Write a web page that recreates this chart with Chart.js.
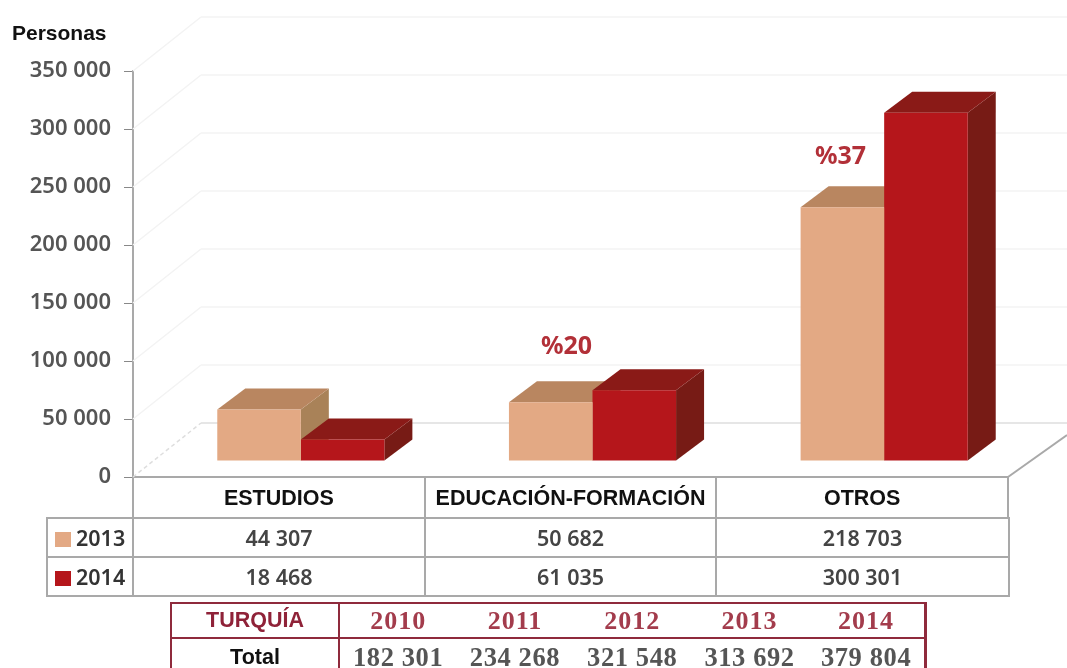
<!DOCTYPE html>
<html lang="es">
<head>
<meta charset="utf-8">
<title>Turquía</title>
<script src="https://cdn.jsdelivr.net/npm/chart.js@4/dist/chart.umd.min.js"></script>
<style>
    html, body { margin: 0; padding: 0; background: #fff; overflow: hidden; }
    #wrap { position: relative; width: 1067px; height: 668px; overflow: hidden; }
    canvas { position: absolute; left: 0; top: 0; }
    .personas { position: absolute; left: 12px; top: 21px; font: bold 21px "Liberation Sans", sans-serif; color: #111; }
    .pct { position: absolute; font: bold 25px "Noto Sans", sans-serif; color: #b23038; }
    #pct1 { left: 541px; top: 327px; }
    #pct2 { left: 815px; top: 137px; }
    table { position: absolute; border-collapse: collapse; table-layout: fixed; }
    #dataTable { left: 46px; top: 517px; width: 962px; }
    #dataTable td { height: 37px; padding: 0; border: 2px solid #a9a9a9; text-align: center;
        font: 600 21.5px "Noto Sans", sans-serif; color: #444; }
    #dataTable td.name { text-align: left; padding-left: 7px; white-space: nowrap; color: #333; }
    .swatch { display: inline-block; width: 16px; height: 15px; margin-right: 5px; vertical-align: -1px; }
    #turkeyTable { left: 170px; top: 602px; width: 757px; }
    #turkeyTable td { padding: 0; border: 2px solid #8f2a3c; border-left: none; border-right: none; text-align: center; }
    #turkeyTable td.head { width: 166px; border: 2px solid #8f2a3c; font: bold 21.5px "Liberation Sans", sans-serif; }
    #turkeyTable tr:first-child td { height: 33px; }
    #turkeyTable tr:last-child td { height: 36px; border-bottom: none; }
    #turkeyTable td.year { font: bold 26px "Liberation Serif", serif; color: #a33c4c; letter-spacing: 1px; }
    #turkeyTable td.total { font: bold 26.5px "Liberation Serif", serif; color: #555; letter-spacing: 0.6px; }
    #turkeyTable td.last { border-right: 3px solid #8f2a3c; }
</style>
</head>
<body>
<div id="wrap">
    <canvas id="chart" width="1067" height="668"></canvas>
    <div class="personas">Personas</div>
    <div class="pct" id="pct1">%20</div>
    <div class="pct" id="pct2">%37</div>
    <table id="dataTable"></table>
    <table id="turkeyTable"></table>
</div>
<script>
const categories = ['ESTUDIOS', 'EDUCACIÓN-FORMACIÓN', 'OTROS'];
const seriesNames = ['2013', '2014'];
const values2013 = [44307, 50682, 218703];
const values2014 = [18468, 61035, 300301];
const turkeyYears = ['2010', '2011', '2012', '2013', '2014'];
const turkeyTotals = [182301, 234268, 321548, 313692, 379804];

// front colour, top face, side face for each series
const peach = { front: '#e3a984', top: '#b98660', side: '#a98258' };
const red = { front: '#b5161b', top: '#8a1a17', side: '#771b15' };

const fmt = v => String(v).replace(/\B(?=(\d{3})+$)/g, ' ');

// Fake 3D: the bars sit a little inside the floor, the faces are derived from each bar
const FLOOR_DX = 22;
const FLOOR_DY = -16;
const DEPTH_X = 28;
const DEPTH_Y = -21;
const WALL_X = 68;
const WALL_Y = -54;

function poly(ctx, points, color) {
    ctx.fillStyle = color;
    ctx.beginPath();
    points.forEach((p, i) => i ? ctx.lineTo(p[0], p[1]) : ctx.moveTo(p[0], p[1]));
    ctx.closePath();
    ctx.fill();
}

const box3d = {
    id: 'box3d',
    beforeDatasetsDraw(chart) {
        const { ctx, chartArea, scales } = chart;
        const y = scales.y;

        // back wall and floor
        ctx.save();
        ctx.lineWidth = 1.5;
        y.ticks.forEach(t => {
            const py = y.getPixelForValue(t.value);
            const isFloor = t.value === 0;
            ctx.strokeStyle = isFloor ? '#dedede' : '#f3f3f3';
            ctx.setLineDash(isFloor ? [4, 3] : []);
            ctx.beginPath();
            ctx.moveTo(chartArea.left, py);
            ctx.lineTo(chartArea.left + WALL_X, py + WALL_Y);
            ctx.stroke();
            ctx.setLineDash([]);
            ctx.beginPath();
            ctx.moveTo(chartArea.left + WALL_X, py + WALL_Y);
            ctx.lineTo(chart.width, py + WALL_Y);
            ctx.stroke();
        });
        ctx.strokeStyle = '#a9a9a9';
        ctx.lineWidth = 2;
        ctx.beginPath();
        ctx.moveTo(chartArea.right, chartArea.bottom);
        ctx.lineTo(chart.width, chartArea.bottom + WALL_Y + 12);
        ctx.stroke();
        ctx.restore();

        // stays translated for the library's own bars, restored in afterDatasetsDraw
        ctx.save();
        ctx.translate(FLOOR_DX, FLOOR_DY);
        [peach, red].forEach((faces, ds) => {
            chart.getDatasetMeta(ds).data.forEach(bar => {
                const l = bar.x - bar.width / 2;
                const r = bar.x + bar.width / 2;
                poly(ctx, [[r, bar.y], [r + DEPTH_X, bar.y + DEPTH_Y], [r + DEPTH_X, bar.base + DEPTH_Y], [r, bar.base]], faces.side);
                poly(ctx, [[l, bar.y], [l + DEPTH_X, bar.y + DEPTH_Y], [r + DEPTH_X, bar.y + DEPTH_Y], [r, bar.y]], faces.top);
            });
        });
    },
    afterDatasetsDraw(chart) {
        chart.ctx.restore();
    }
};

new Chart(document.getElementById('chart'), {
    type: 'bar',
    data: {
        labels: categories,
        datasets: [
            { label: seriesNames[0], data: values2013, backgroundColor: peach.front, borderWidth: 0 },
            { label: seriesNames[1], data: values2014, backgroundColor: red.front, borderWidth: 0 }
        ]
    },
    plugins: [box3d],
    options: {
        responsive: false,
        animation: false,
        layout: { padding: { top: 71, right: 59, left: 0, bottom: 0 } },
        plugins: { legend: { display: false }, tooltip: { enabled: false } },
        datasets: { bar: { categoryPercentage: 0.573, barPercentage: 1 } },
        scales: {
            x: {
                offset: true,
                afterFit: scale => { scale.height = 191; },
                border: { color: '#a9a9a9', width: 2 },
                grid: { drawOnChartArea: false, offset: true, color: '#a9a9a9', lineWidth: 2, tickLength: 40 },
                ticks: {
                    padding: -31,
                    maxRotation: 0,
                    autoSkip: false,
                    color: '#111',
                    font: { family: '"Liberation Sans", sans-serif', size: 21.5, weight: 'bold' }
                }
            },
            y: {
                min: 0,
                max: 350000,
                afterFit: scale => { scale.width = 133; },
                border: { color: '#a9a9a9', width: 2 },
                grid: { drawOnChartArea: false, color: '#888', tickLength: 9 },
                ticks: {
                    stepSize: 50000,
                    padding: 13,
                    color: '#555',
                    font: { family: '"Noto Sans", sans-serif', size: 22, weight: '600' },
                    callback: value => fmt(value)
                }
            }
        }
    }
});

// Tables under the plot
const dataRows = [[seriesNames[0], peach.front, values2013], [seriesNames[1], red.front, values2014]];
document.getElementById('dataTable').innerHTML =
    '<colgroup><col style="width:86px"><col style="width:292px"><col style="width:291px"><col style="width:293px"></colgroup>' +
    dataRows.map(([name, color, vals]) =>
        `<tr><td class="name"><span class="swatch" style="background:${color}"></span>${name}</td>` +
        vals.map(v => `<td>${fmt(v)}</td>`).join('') + '</tr>').join('');

document.getElementById('turkeyTable').innerHTML =
    '<tr><td class="head" style="color:#8f2238">TURQUÍA</td>' +
    turkeyYears.map((yr, i) => `<td class="year${i === 4 ? ' last' : ''}">${yr}</td>`).join('') + '</tr>' +
    '<tr><td class="head" style="color:#111;border-bottom:none">Total</td>' +
    turkeyTotals.map((v, i) => `<td class="total${i === 4 ? ' last' : ''}">${fmt(v)}</td>`).join('') + '</tr>';
</script>
</body>
</html>
